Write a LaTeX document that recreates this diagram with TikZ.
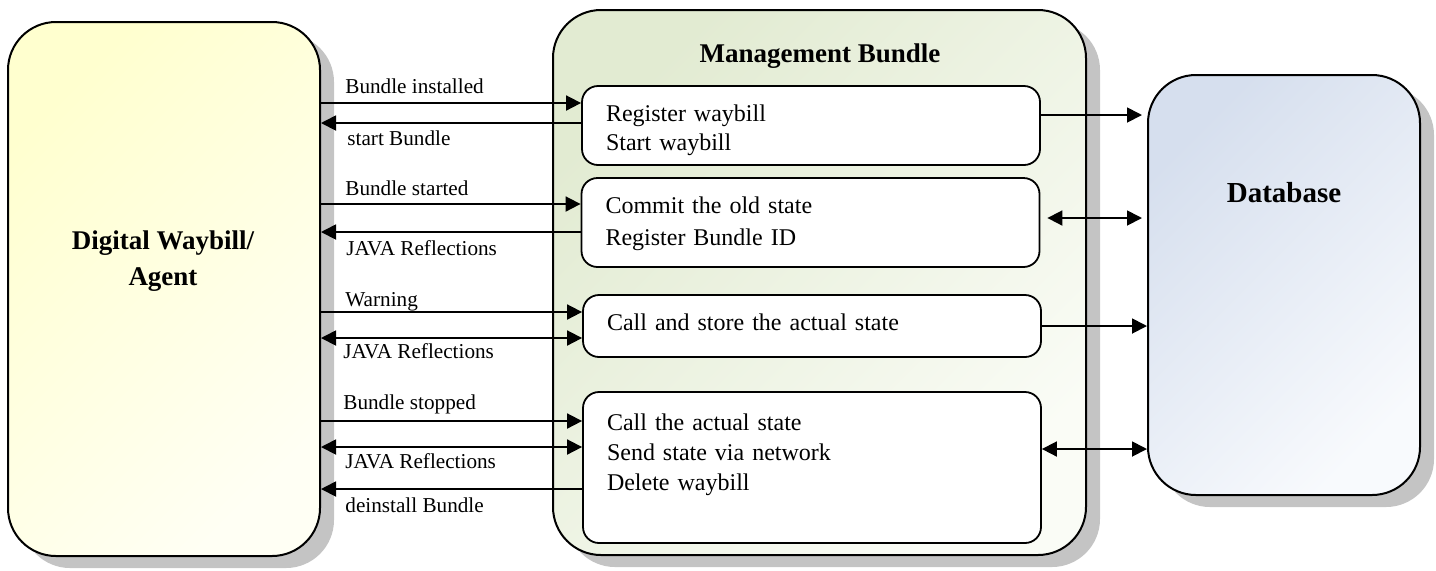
\documentclass[tikz,border=0pt]{standalone}
\usepackage{fontspec}
\setmainfont{Liberation Serif}
\usetikzlibrary{positioning,arrows.meta,shadows}

\definecolor{agenttop}{HTML}{FFFFCF}
\definecolor{agentbot}{HTML}{FFFFF4}
\definecolor{mgmttop}{HTML}{E2EBD2}
\definecolor{mgmtbot}{HTML}{FAFCF6}
\definecolor{dbtop}{HTML}{D6DFEE}
\definecolor{dbbot}{HTML}{F8FAFD}
\definecolor{shadowgray}{HTML}{C4C4C4}

\tikzset{
  >={Triangle[length=7.5pt,width=7.5pt]},
  bigbox/.style={draw, line width=1pt, rounded corners=24pt, shading angle=45,
    drop shadow={shadow xshift=7pt, shadow yshift=-6pt, fill=shadowgray, opacity=1}},
  stepbox/.style={draw, fill=white, line width=0.9pt, rounded corners=8pt, align=left,
    inner xsep=12pt, text width=205pt, text height=9pt, font=\fontsize{12}{15}\selectfont},
  title/.style={font=\bfseries\fontsize{13.5}{18}\selectfont, align=center},
  msglabel/.style={anchor=base west, inner sep=0pt, font=\fontsize{10.6}{12}\selectfont},
  msg/.style={line width=0.9pt}
}

\begin{document}
\begin{tikzpicture}[x=0.5pt, y=-0.5pt]
  \useasboundingbox (0,0) rectangle (1436,570);

  % Main blocks
  \node[bigbox, top color=agenttop, bottom color=agentbot, shading angle=45,
        minimum width=156pt, minimum height=267pt] (agent) at (164,289) {};
  \node[bigbox, top color=mgmttop, bottom color=mgmtbot, shading angle=45,
        minimum width=266.5pt, minimum height=272.5pt] (mgmt) at (819.5,282.5) {};
  \node[bigbox, top color=dbtop, bottom color=dbbot, shading angle=45,
        minimum width=136pt, minimum height=210pt] (db) at (1284,285) {};

  \node[title] (agenttitle) at (163,261) {Digital Waybill/\\Agent};
  \node[title, anchor=base] (mgmttitle) at (820,62) {Management Bundle};
  \node[title, anchor=base, font=\bfseries\fontsize{14.5}{18}\selectfont] (dbtitle) at (1284,202) {Database};

  % Steps inside the bundle
  \node[stepbox, minimum height=39.5pt, text depth=13.5pt] (reg) at (811,125.5)
    {Register waybill\\[-0.5pt]Start waybill};
  \node[stepbox, minimum height=44.5pt, text depth=18.5pt] (commit) at (810.5,222.5)
    {Commit the old state\\[1pt]Register Bundle ID};
  \node[stepbox, minimum height=31pt, text depth=5pt] (store) at (812,326)
    {Call and store the actual state};
  \node[stepbox, minimum height=75.5pt, text depth=46.5pt] (send) at (812,467.5)
    {Call the actual state\\Send state via network\\Delete waybill};

  % Heights of the messages
  \coordinate (y1) at (0,103);
  \coordinate (y2) at (0,123);
  \coordinate (y3) at (0,204);
  \coordinate (y4) at (0,232);
  \coordinate (y5) at (0,312);
  \coordinate (y6) at (0,338);
  \coordinate (y7) at (0,421);
  \coordinate (y8) at (0,447);
  \coordinate (y9) at (0,489);

  % Agent <-> bundle
  \draw[msg, ->] (agent.east |- y1) -- (reg.west |- y1);
  \draw[msg, <-] (agent.east |- y2) -- (reg.west |- y2);
  \draw[msg, ->] (agent.east |- y3) -- (commit.west |- y3);
  \draw[msg, <-] (agent.east |- y4) -- (commit.west |- y4);
  \draw[msg, ->] (agent.east |- y5) -- (store.west |- y5);
  \draw[msg, <->] (agent.east |- y6) -- (store.west |- y6);
  \draw[msg, ->] (agent.east |- y7) -- (send.west |- y7);
  \draw[msg, <->] (agent.east |- y8) -- (send.west |- y8);
  \draw[msg, <-] (agent.east |- y9) -- (send.west |- y9);

  \node[msglabel] (l1) at (345,93) {Bundle installed};
  \node[msglabel] (l2) at (347,145) {start Bundle};
  \node[msglabel] (l3) at (345,195) {Bundle started};
  \node[msglabel] (l4) at (346,255) {JAVA Reflections};
  \node[msglabel] (l5) at (345,306) {Warning};
  \node[msglabel] (l6) at (343,358) {JAVA Reflections};
  \node[msglabel] (l7) at (343,409) {Bundle stopped};
  \node[msglabel] (l8) at (345,468) {JAVA Reflections};
  \node[msglabel] (l9) at (345,512) {deinstall Bundle};

  % Bundle <-> database
  \coordinate (r1) at (0,115);
  \coordinate (r2) at (0,218);
  \coordinate (r3) at (0,326);
  \coordinate (r4) at (0,449);
  \draw[msg, ->, shorten >=2.5pt] (reg.east |- r1) -- (db.west |- r1);
  \draw[msg, <->, shorten <=3.5pt, shorten >=2.5pt] (commit.east |- r2) -- (db.west |- r2);
  \draw[msg, ->] (store.east |- r3) -- (db.west |- r3);
  \draw[msg, <->] (send.east |- r4) -- (db.west |- r4);
\end{tikzpicture}
\end{document}
